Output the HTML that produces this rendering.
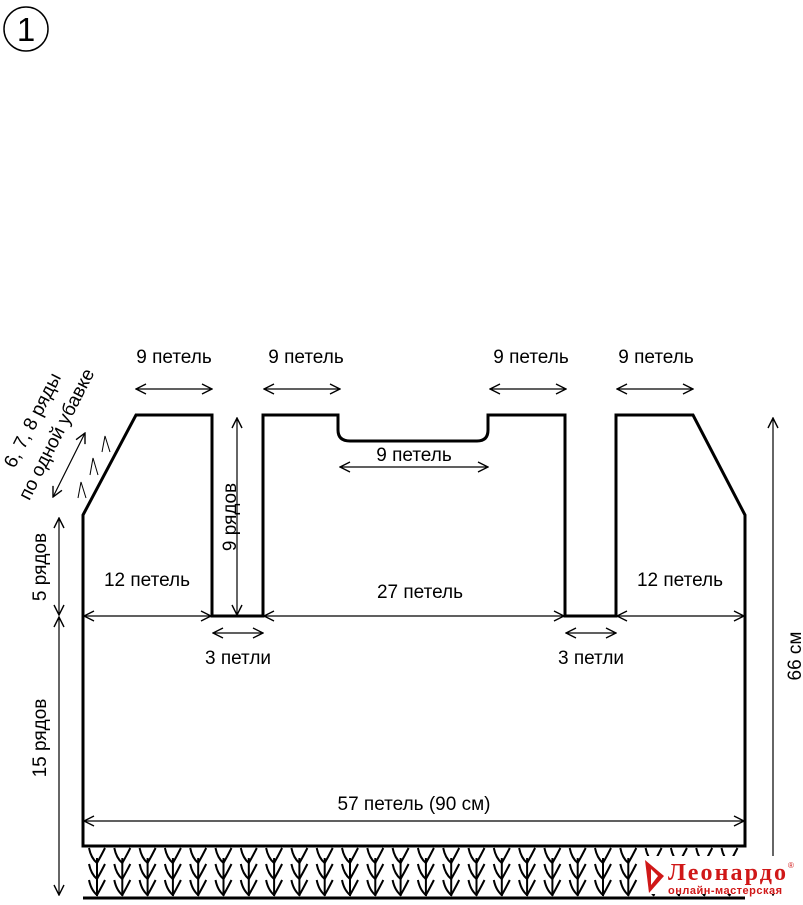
<!DOCTYPE html>
<html><head><meta charset="utf-8"><style>
body{margin:0;background:#fff;}
svg text{font-family:"Liberation Sans",sans-serif;fill:#000;}
</style></head><body>
<svg width="803" height="900" viewBox="0 0 803 900" xmlns="http://www.w3.org/2000/svg">
<defs>
<marker id="a" viewBox="0 0 12 12" refX="11" refY="6" markerWidth="12" markerHeight="12" markerUnits="userSpaceOnUse" orient="auto-start-reverse">
<path d="M1,1 L11,6 L1,11" fill="none" stroke="#000" stroke-width="1.4"/>
</marker>
<g id="col" stroke="#000" stroke-width="2" fill="none">
<line x1="0" y1="858" x2="0" y2="896"/>
<path d="M-8,848 Q-6,858 0,863 Q4,856 8,848"/>
<path d="M-8,864 Q-6,874 0,879 Q4,872 8,864"/>
<path d="M-8,880 Q-6,890 0,895 Q4,888 8,880"/>
</g>
</defs>
<circle cx="26" cy="29" r="22" fill="none" stroke="#000" stroke-width="1.5"/>
<text x="26" y="41" font-size="33" text-anchor="middle">1</text>

<path d="M83,515 L136,415 L212,415 L212,616 L263,616 L263,415 L338,415 L338,430 Q338,441 350,441 L477,441 Q488,441 488,430 L488,415 L565,415 L565,616 L616,616 L616,415 L693,415 L745,515 L745,846 L83,846 Z" fill="none" stroke="#000" stroke-width="3" stroke-linejoin="miter"/>
<line x1="83" y1="898" x2="745" y2="898" stroke="#000" stroke-width="3"/>

<g stroke="#000" stroke-width="1.2" fill="none">
<line x1="136" y1="389" x2="212" y2="389" marker-start="url(#a)" marker-end="url(#a)"/>
<line x1="264" y1="389" x2="340" y2="389" marker-start="url(#a)" marker-end="url(#a)"/>
<line x1="490" y1="389" x2="566" y2="389" marker-start="url(#a)" marker-end="url(#a)"/>
<line x1="617" y1="389" x2="693" y2="389" marker-start="url(#a)" marker-end="url(#a)"/>
<line x1="340" y1="467" x2="488" y2="467" marker-start="url(#a)" marker-end="url(#a)"/>
<line x1="237" y1="418" x2="237" y2="615" marker-start="url(#a)" marker-end="url(#a)"/>
<line x1="84" y1="616" x2="211" y2="616" marker-start="url(#a)" marker-end="url(#a)"/>
<line x1="264" y1="616" x2="564" y2="616" marker-start="url(#a)" marker-end="url(#a)"/>
<line x1="617" y1="616" x2="744" y2="616" marker-start="url(#a)" marker-end="url(#a)"/>
<line x1="213" y1="633" x2="263" y2="633" marker-start="url(#a)" marker-end="url(#a)"/>
<line x1="566" y1="633" x2="616" y2="633" marker-start="url(#a)" marker-end="url(#a)"/>
<line x1="84" y1="821" x2="744" y2="821" marker-start="url(#a)" marker-end="url(#a)"/>
<line x1="59" y1="518" x2="59" y2="615" marker-start="url(#a)" marker-end="url(#a)"/>
<line x1="59" y1="617" x2="59" y2="895" marker-start="url(#a)" marker-end="url(#a)"/>
<line x1="773" y1="418" x2="773" y2="895" marker-start="url(#a)" marker-end="url(#a)"/>
<line x1="85" y1="433" x2="53" y2="497" marker-start="url(#a)" marker-end="url(#a)"/>
<path d="M78,498 L81,482 L86,498 M90,475 L93,458 L98,475 M102,452 L105,436 L110,452" stroke-width="1"/>
</g>

<g font-size="19" text-anchor="middle">
<text x="174" y="363">9 петель</text>
<text x="306" y="363">9 петель</text>
<text x="531" y="363">9 петель</text>
<text x="656" y="363">9 петель</text>
<text x="414" y="461">9 петель</text>
<text x="147" y="586">12 петель</text>
<text x="420" y="598">27 петель</text>
<text x="680" y="586">12 петель</text>
<text x="238" y="664">3 петли</text>
<text x="591" y="664">3 петли</text>
<text x="414" y="810">57 петель (90 см)</text>
<text transform="translate(236,517) rotate(-90)">9 рядов</text>
<text transform="translate(46,567) rotate(-90)">5 рядов</text>
<text transform="translate(46,738) rotate(-90)">15 рядов</text>
<text transform="translate(801,656) rotate(-90)">66 см</text>
<text transform="translate(38,423) rotate(-63)">6, 7, 8 ряды</text>
<text transform="translate(62,437) rotate(-63)">по одной убавке</text>
</g>

<use href="#col" x="97"/><use href="#col" x="122.3"/><use href="#col" x="147.6"/><use href="#col" x="172.9"/>
<use href="#col" x="198.2"/><use href="#col" x="223.5"/><use href="#col" x="248.8"/><use href="#col" x="274.1"/>
<use href="#col" x="299.4"/><use href="#col" x="324.7"/><use href="#col" x="350"/><use href="#col" x="375.3"/>
<use href="#col" x="400.6"/><use href="#col" x="425.9"/><use href="#col" x="451.2"/><use href="#col" x="476.5"/>
<use href="#col" x="501.8"/><use href="#col" x="527.1"/><use href="#col" x="552.4"/><use href="#col" x="577.7"/>
<use href="#col" x="603"/><use href="#col" x="628.3"/><use href="#col" x="653.6"/><use href="#col" x="678.9"/>
<use href="#col" x="704.2"/><use href="#col" x="729.5"/>

<rect x="642" y="856" width="158" height="38" fill="#fff"/>
<path d="M645,860 L664,876 L649,893 Z" fill="#d01818"/>
<path d="M651,869 L658,876 L651,885 Z" fill="#fff"/>
<text x="668" y="880" font-size="24" textLength="118" style="fill:#d01818;font-family:'Liberation Serif',serif;font-weight:bold">Леонардо</text>
<text x="788" y="868" font-size="8" style="fill:#d01818">®</text>
<text x="668" y="894" font-size="11" textLength="114" style="fill:#d01818;font-weight:bold">онлайн-мастерская</text>
</svg>
</body></html>
